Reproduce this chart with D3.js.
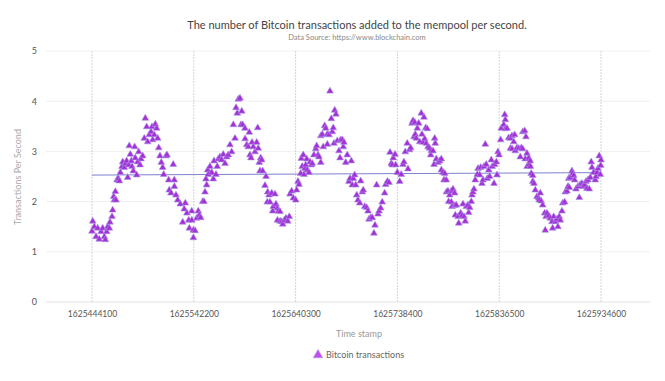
<!DOCTYPE html>
<html>
<head>
<meta charset="utf-8">
<script src="https://cdn.jsdelivr.net/npm/d3@7"></script>
<style>
  body { margin: 0; background: #fff; }
  text { font-family: "Source Sans Pro", Lato, "Noto Sans", sans-serif; }
</style>
</head>
<body>
<div id="chart"></div>
<script>
// Time stamps (unix seconds) of each reading
const timestamps = [
  1625444100,1625444800,1625446300,1625448000,1625449600,1625451100,1625452800,1625454400,1625456000,1625456900,
  1625458300,1625459200,1625460800,1625461400,1625463400,1625464000,1625465000,1625465600,1625466600,1625467200,
  1625468200,1625469400,1625470400,1625471400,1625473000,1625473700,1625475200,1625476200,1625477500,1625478500,
  1625479500,1625480000,1625481000,1625482000,1625482600,1625483900,1625485200,1625485800,1625487200,1625488100,
  1625489100,1625490400,1625491300,1625493000,1625494500,1625495500,1625496800,1625497800,1625499300,1625501000,
  1625501900,1625502600,1625504100,1625505100,1625506400,1625507400,1625508400,1625509600,1625510900,1625512200,
  1625513200,1625515400,1625516400,1625518000,1625518600,1625520200,1625522400,1625523400,1625523500,1625525000,
  1625526700,1625529200,1625531500,1625533000,1625534000,1625535600,1625537300,1625537900,
  1625540200,1625540300,1625541700,1625541800,1625543400,1625545000,1625546500,1625547500,1625548800,1625550800,
  1625552000,1625553000,1625553900,1625554600,1625555600,1625556200,1625557800,1625559400,1625561000,1625561700,
  1625563600,1625564800,1625565800,1625567400,1625569100,1625570600,1625572300,1625573900,1625575400,1625577100,
  1625578700,1625580300,1625581900,1625582900,1625584100,1625585100,1625586700,1625587700,1625588400,1625589300,
  1625591500,1625591600,1625593200,1625594700,1625595700,1625596300,1625597300,1625598300,1625599500,1625601200,
  1625602800,1625603800,1625604300,1625605300,1625606000,1625606700,1625607600,1625608600,1625610800,1625611800,
  1625613000,1625613400,1625614700,1625615600,1625617300,1625618200,1625618800,1625620400,1625621400,1625622700,
  1625622800,1625623600,1625625300,1625625400,1625626900,1625627900,1625629400,1625631000,1625632700,1625634200,
  1625634900,1625636500,1625638100,
  1625640400,1625641300,1625642600,1625643600,1625645200,1625645800,1625646700,1625647700,1625648400,1625649300,
  1625650000,1625651000,1625651600,1625653200,1625654200,1625655400,1625656400,1625658000,1625659700,1625660600,
  1625661900,1625662800,1625664500,1625664600,1625666000,1625667000,1625668300,1625669300,1625670800,1625670900,
  1625672500,1625673400,1625674700,1625675700,1625676600,1625677300,1625678000,1625679200,1625680500,1625682100,
  1625683100,1625683700,1625685300,1625686300,1625686900,1625688600,1625690100,1625691700,1625692700,1625694000,
  1625694900,1625695900,1625697200,1625698200,1625699200,1625700400,1625702100,1625703000,1625704600,1625705500,
  1625706900,1625708800,1625710100,1625711000,1625712700,1625714200,1625715800,1625716800,1625718400,1625719700,
  1625720700,1625722300,1625723800,1625726100,1625727100,1625728700,1625730300,1625731300,1625732500,1625733500,
  1625734400,1625736100,1625736700,1625738300,
  1625740600,1625742100,1625743800,1625744700,1625746000,1625747900,1625748600,1625750200,1625751200,1625752500,
  1625753400,1625754400,1625755100,1625755600,1625756600,1625757600,1625758900,1625759900,1625761400,1625762100,
  1625763100,1625764000,1625764700,1625765700,1625766200,1625767200,1625767900,1625769500,1625770500,1625771100,
  1625772700,1625773700,1625774300,1625774900,1625775900,1625777500,1625779100,1625780700,1625780800,1625782300,
  1625783300,1625784000,1625785500,1625785600,1625787100,1625787800,1625788800,1625790300,1625790400,1625791000,
  1625792000,1625793600,1625793700,1625794200,1625795100,1625796800,1625797500,1625799400,1625800600,1625801600,
  1625802600,1625803800,1625804800,1625806400,1625807100,1625808100,1625809600,1625810300,1625811200,1625812200,
  1625813400,1625815400,1625816100,1625817700,1625818700,1625819900,1625820900,1625821800,1625823100,1625824000,
  1625825000,1625826400,1625827300,1625828900,1625829800,1625831500,1625832100,1625833700,1625834400,1625835300,
  1625836300,1625837900,1625838500,
  1625840800,1625841800,1625842400,1625842500,1625844000,1625845600,1625847200,1625847300,1625848800,1625848900,
  1625850500,1625851400,1625852000,1625853600,1625855300,1625856800,1625857800,1625859100,1625859200,1625861100,
  1625861600,1625862300,1625863300,1625863400,1625864900,1625865500,1625866400,1625866500,1625867400,1625868800,
  1625868900,1625870000,1625871300,1625872900,1625874500,1625875100,1625876100,1625877000,1625878400,1625880300,
  1625880900,1625881600,1625882500,1625884200,1625885700,1625887400,1625888000,1625889000,1625890500,1625892200,
  1625893100,1625894400,1625895400,1625897000,1625897700,1625899600,1625900200,1625901800,1625902800,1625903400,
  1625904000,1625905000,1625906600,1625907300,1625908300,1625909200,1625910500,1625912400,1625913700,1625914600,
  1625916300,1625916900,1625918900,1625920100,1625921100,1625922000,1625923300,1625924300,1625925200,1625925900,
  1625927500,1625929100,1625929800,1625930700,1625931700,1625932900,1625933900,1625934300,1625934600
];

// Transactions per second at each time stamp
const txPerSecond = [
  1.41,1.61,1.50,1.30,1.47,1.25,1.40,1.47,1.30,1.24,
  1.40,1.50,1.47,1.59,1.70,1.83,2.10,2.03,2.20,2.03,
  2.43,2.46,2.41,2.58,2.70,2.79,2.68,2.76,2.81,2.48,
  2.73,3.11,2.94,2.81,2.70,2.61,3.09,2.87,2.53,2.79,
  2.99,2.73,2.85,2.91,3.26,3.66,3.49,3.19,3.33,3.39,
  3.49,3.23,3.33,3.54,3.46,3.26,3.07,2.91,2.78,2.68,
  2.54,2.91,2.93,2.43,2.23,2.17,2.74,2.43,2.30,2.13,
  2.03,1.95,1.59,1.85,1.97,1.77,1.63,1.47,
  1.81,1.63,1.43,1.28,1.42,1.67,1.81,1.73,1.68,2.00,
  2.00,2.19,2.45,2.33,2.63,2.54,2.70,2.58,2.45,2.81,
  2.54,2.70,2.85,2.89,2.83,2.94,2.76,2.89,2.93,3.13,
  2.99,3.53,3.26,3.87,3.76,4.04,4.06,3.53,3.80,3.53,
  3.46,3.25,3.13,3.09,3.38,2.93,2.87,3.18,3.09,2.99,
  3.18,3.47,3.06,2.78,2.61,2.87,2.83,2.61,2.32,2.50,
  1.99,2.19,2.13,1.99,2.17,1.81,1.90,2.15,1.95,1.87,
  1.63,1.81,1.80,1.61,1.60,1.55,1.63,1.67,1.61,1.70,
  2.15,2.21,2.07,
  2.03,2.23,2.40,2.34,2.56,2.86,2.70,2.93,2.54,2.66,
  2.73,2.85,2.63,2.58,2.79,2.73,2.76,2.93,3.05,3.11,
  2.93,2.89,2.78,3.31,3.34,3.09,3.51,3.46,3.34,3.14,
  3.33,4.20,3.65,3.39,3.47,3.16,3.82,3.74,3.21,3.01,
  2.87,3.23,3.23,3.09,3.18,2.78,2.93,2.40,2.46,2.81,
  2.33,2.46,2.53,2.33,2.13,2.03,1.97,2.41,2.19,2.23,
  1.90,1.88,1.81,1.65,1.68,1.68,1.37,1.53,2.33,1.75,
  1.81,1.87,1.99,2.17,2.34,2.40,2.38,2.98,2.76,2.73,
  2.87,2.94,2.73,2.58,
  2.40,2.54,2.74,2.79,2.99,3.16,2.65,3.03,3.07,3.56,
  3.61,3.29,3.58,3.34,3.26,3.46,3.56,3.19,3.76,3.34,
  3.18,3.68,3.25,3.47,3.16,3.45,3.09,3.06,2.93,3.01,
  3.01,2.74,3.26,3.16,2.85,2.78,2.81,2.85,2.63,2.58,
  2.43,2.56,2.43,2.19,2.21,2.00,2.13,2.21,1.99,1.90,
  2.25,2.17,1.92,1.73,1.93,1.70,1.57,1.77,1.72,1.95,
  1.70,1.61,1.90,1.93,1.78,1.88,2.00,2.13,2.19,2.25,
  2.43,2.54,2.66,2.53,2.68,2.36,2.43,2.70,3.14,2.74,
  2.46,2.63,2.50,2.83,2.70,2.36,2.74,2.79,2.53,2.99,
  2.93,3.23,3.46,
  3.53,3.73,3.63,3.45,3.46,3.27,3.26,3.06,3.31,3.05,
  3.19,3.33,3.01,3.07,3.06,2.89,3.07,3.05,3.39,3.41,
  2.85,3.29,2.96,2.70,2.87,2.74,2.81,2.70,2.56,2.52,
  2.40,2.36,2.23,2.10,2.07,2.03,2.17,2.01,1.93,1.77,
  1.43,1.70,1.77,1.72,1.67,1.60,1.47,1.70,1.60,1.65,
  1.50,1.70,1.63,1.81,1.97,1.99,2.19,2.21,2.30,2.46,
  2.28,2.48,2.61,2.56,2.52,2.43,2.25,2.30,2.08,2.34,
  2.36,2.30,2.33,2.40,2.26,2.43,2.25,2.48,2.79,2.68,
  2.58,2.43,2.50,2.58,2.66,2.91,2.54,2.72,2.83
];

const xTickValues = [1625444100, 1625542200, 1625640300, 1625738400, 1625836500, 1625934600];
const yTickValues = [0, 1, 2, 3, 4, 5];

const titleText = "The number of Bitcoin transactions added to the mempool per second.";
const subtitleText = "Data Source: https://www.blockchain.com";
const xAxisLabel = "Time stamp";
const yAxisLabel = "Transactions Per Second";
const seriesName = "Bitcoin transactions";

if (timestamps.length !== txPerSecond.length) {
  console.error("length mismatch", timestamps.length, txPerSecond.length);
}

const points = timestamps.map((t, i) => ({ t: t, v: txPerSecond[i] }));

const chartWidth = 665;
const chartHeight = 381;
const plotLeft = 46, plotRight = 650;
const centerX = 357;

const svg = d3.select("#chart")
  .append("svg")
  .attr("width", chartWidth)
  .attr("height", chartHeight);

const xScale = d3.scaleLinear()
  .domain([xTickValues[0], xTickValues[xTickValues.length - 1]])
  .range([92, 601]);

const yScale = d3.scaleLinear()
  .domain([0, 5])
  .range([302, 51]);

// horizontal grid lines
svg.append("g")
  .selectAll("line")
  .data(yTickValues)
  .join("line")
  .attr("x1", plotLeft)
  .attr("x2", plotRight)
  .attr("y1", d => yScale(d))
  .attr("y2", d => yScale(d))
  .attr("stroke", d => d === 0 ? "#e2e2e2" : "#f0f0f0")
  .attr("stroke-width", 1);

// vertical grid lines
svg.append("g")
  .selectAll("line")
  .data(xTickValues)
  .join("line")
  .attr("x1", d => xScale(d))
  .attr("x2", d => xScale(d))
  .attr("y1", yScale(5))
  .attr("y2", yScale(0))
  .attr("stroke", "#d4d4d4")
  .attr("stroke-dasharray", "2,1")
  .attr("stroke-width", 1);

// x axis
const xAxis = d3.axisBottom(xScale)
  .tickValues(xTickValues)
  .tickFormat(d3.format("d"))
  .tickSize(0)
  .tickPadding(9);

const gx = svg.append("g")
  .attr("transform", `translate(0, ${yScale(0)})`)
  .call(xAxis);
gx.select(".domain").remove();
gx.selectAll("text")
  .attr("fill", "#555")
  .style("font-size", "8.5px");

// y axis
const yAxis = d3.axisLeft(yScale)
  .tickValues(yTickValues)
  .tickFormat(d3.format("d"))
  .tickSize(0)
  .tickPadding(9);

const gy = svg.append("g")
  .attr("transform", `translate(${plotLeft}, 0)`)
  .call(yAxis);
gy.select(".domain").remove();
gy.selectAll("text")
  .attr("fill", "#555")
  .style("font-size", "9px");

// trend line (least squares over the readings)
const meanT = d3.mean(points, d => d.t);
const meanV = d3.mean(points, d => d.v);
const slope = d3.sum(points, d => (d.t - meanT) * (d.v - meanV)) /
  d3.sum(points, d => (d.t - meanT) * (d.t - meanT));
const tExtent = d3.extent(points, d => d.t);
const trend = tExtent.map(t => ({ t: t, v: meanV + slope * (t - meanT) }));

svg.append("path")
  .datum(trend)
  .attr("fill", "none")
  .attr("stroke", "#7d80cf")
  .attr("stroke-width", 1)
  .attr("d", d3.line().x(d => xScale(d.t)).y(d => yScale(d.v)));

// scatter points
const triangle = d3.symbol().type(d3.symbolTriangle).size(20);

svg.append("g")
  .selectAll("path")
  .data(points)
  .join("path")
  .attr("transform", d => `translate(${xScale(d.t)}, ${yScale(d.v)})`)
  .attr("d", triangle)
  .attr("fill", "#a62fd8")
  .attr("stroke", "#a493e2")
  .attr("stroke-width", 0.6);

// titles
svg.append("text")
  .attr("x", centerX)
  .attr("y", 29)
  .attr("text-anchor", "middle")
  .attr("fill", "#444")
  .style("font-size", "11px")
  .text(titleText);

svg.append("text")
  .attr("x", centerX)
  .attr("y", 40)
  .attr("text-anchor", "middle")
  .attr("fill", "#888")
  .style("font-size", "7.5px")
  .text(subtitleText);

svg.append("text")
  .attr("x", 359)
  .attr("y", 337)
  .attr("text-anchor", "middle")
  .attr("fill", "#999")
  .style("font-size", "9px")
  .text(xAxisLabel);

svg.append("text")
  .attr("transform", "translate(21, 177) rotate(-90)")
  .attr("text-anchor", "middle")
  .attr("fill", "#aaa")
  .style("font-size", "9px")
  .text(yAxisLabel);

// legend
const legend = svg.append("g").attr("transform", "translate(318, 355)");
legend.append("path")
  .attr("d", d3.symbol().type(d3.symbolTriangle).size(40))
  .attr("fill", "#c24ff0")
  .attr("stroke", "#b79be8")
  .attr("stroke-width", 0.6);
legend.append("text")
  .attr("x", 8)
  .attr("y", 3)
  .attr("fill", "#666")
  .style("font-size", "9px")
  .text(seriesName);
</script>
</body>
</html>
